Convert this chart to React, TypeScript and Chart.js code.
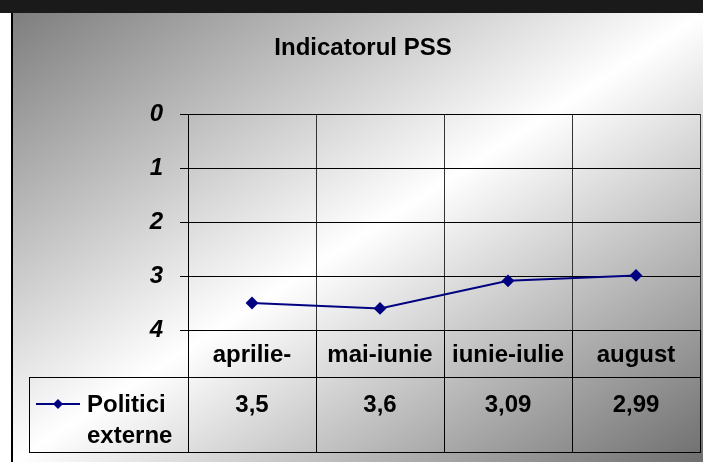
import React, { useEffect, useRef } from "react";
import { Chart, registerables } from "chart.js";

Chart.register(...registerables);

const chartTitle = "Indicatorul PSS";
const categories = ["aprilie-", "mai-iunie", "iunie-iulie", "august"];
const seriesLabelLines = ["Politici", "externe"];
const values = [3.5, 3.6, 3.09, 2.99];
const yTickValues = [0, 1, 2, 3, 4];

const NAVY = "#000080";
const FONT = '"Liberation Sans", Arial, Helvetica, sans-serif';

const tablePlugin = {
  id: "dataTable",
  afterDraw(chart: any) {
    const { ctx, chartArea, scales } = chart;
    const x = scales.x;
    const n = categories.length;
    const centers = categories.map((_, i) => x.getPixelForValue(i));
    const half = (centers[1] - centers[0]) / 2;
    const edges = [centers[0] - half, ...centers.map((c: number) => c + half)];
    const headerTop = chartArea.bottom;
    const rowTop = headerTop + 47;
    const rowBottom = rowTop + 75;

    ctx.save();
    ctx.fillStyle = "#000";
    ctx.font = `bold 24px ${FONT}`;
    ctx.textAlign = "center";
    ctx.textBaseline = "alphabetic";
    ctx.fillText(chartTitle, 363, 42);

    ctx.strokeStyle = "#000";
    ctx.lineWidth = 1;
    edges.forEach((e: number) => {
      const xx = Math.round(e) + 0.5;
      ctx.beginPath();
      ctx.moveTo(xx, headerTop);
      ctx.lineTo(xx, rowBottom);
      ctx.stroke();
    });
    ctx.strokeRect(29.5, rowTop + 0.5, Math.round(edges[n]) - 29, rowBottom - rowTop);

    categories.forEach((c, i) => ctx.fillText(c, centers[i], headerTop + 32));
    values.forEach((v, i) =>
      ctx.fillText(String(v).replace(".", ","), centers[i], rowTop + 35)
    );

    const ly = rowTop + 27;
    ctx.strokeStyle = NAVY;
    ctx.lineWidth = 2;
    ctx.beginPath();
    ctx.moveTo(36, ly);
    ctx.lineTo(80, ly);
    ctx.stroke();
    ctx.fillStyle = NAVY;
    ctx.beginPath();
    ctx.moveTo(58, ly - 5);
    ctx.lineTo(63, ly);
    ctx.lineTo(58, ly + 5);
    ctx.lineTo(53, ly);
    ctx.closePath();
    ctx.fill();

    ctx.fillStyle = "#000";
    ctx.textAlign = "left";
    ctx.fillText(seriesLabelLines[0], 87, rowTop + 35);
    ctx.fillText(seriesLabelLines[1], 87, rowTop + 66);
    ctx.restore();
  },
};

function ChartCanvas() {
  const ref = useRef<HTMLCanvasElement | null>(null);
  useEffect(() => {
    if (!ref.current) return;
    const chart = new Chart(ref.current, {
      type: "line",
      data: {
        labels: categories,
        datasets: [
          {
            label: seriesLabelLines.join(" "),
            data: values,
            borderColor: NAVY,
            backgroundColor: NAVY,
            borderWidth: 2,
            pointStyle: "rectRot",
            pointRadius: 5,
            pointBackgroundColor: NAVY,
            pointBorderColor: NAVY,
            tension: 0,
          },
        ],
      },
      options: {
        responsive: false,
        animation: false,
        devicePixelRatio: 1,
        layout: { padding: { top: 101, right: 3, left: 0, bottom: 0 } },
        plugins: {
          legend: { display: false },
          title: { display: false },
          tooltip: { enabled: false },
        },
        scales: {
          x: {
            type: "category",
            offset: true,
            grid: {
              offset: true,
              color: "#333",
              lineWidth: 1,
              drawTicks: false,
            },
            border: { display: true, color: "#000", width: 1 },
            ticks: { display: false },
            afterFit: (s: any) => {
              s.height = 132;
            },
          },
          y: {
            reverse: true,
            min: 0,
            max: 4,
            afterBuildTicks: (s: any) => {
              s.ticks = yTickValues.map((v) => ({ value: v }));
            },
            grid: { color: "#000", lineWidth: 1, drawTicks: true, tickLength: 8 },
            border: { display: true, color: "#000", width: 1 },
            ticks: {
              color: "#000",
              padding: 17,
              font: { family: FONT, size: 24, weight: "bold", style: "italic" },
            },
            afterFit: (s: any) => {
              s.width = 188;
            },
          },
        },
      },
      plugins: [tablePlugin],
    } as any);
    return () => chart.destroy();
  }, []);
  return (
    <canvas
      ref={ref}
      width={707}
      height={449}
      style={{ position: "absolute", left: 0, top: 13, width: 707, height: 449 }}
    />
  );
}

export default function App() {
  return (
    <div
      style={{
        position: "fixed",
        left: 0,
        top: 0,
        width: 703,
        height: 462,
        background: "#fff",
        overflow: "hidden",
      }}
    >
      <div
        style={{
          position: "absolute",
          left: 0,
          top: 0,
          width: 703,
          height: 13,
          background: "#1a1a1a",
        }}
      />
      <div
        style={{
          position: "absolute",
          left: 11,
          top: 13,
          width: 692,
          height: 449,
          borderLeft: "2px solid #000",
          background:
            "linear-gradient(to bottom right, #7e7e7e 0%, #ffffff 50%, #6e6e6e 100%)",
        }}
      />
      <ChartCanvas />
    </div>
  );
}
